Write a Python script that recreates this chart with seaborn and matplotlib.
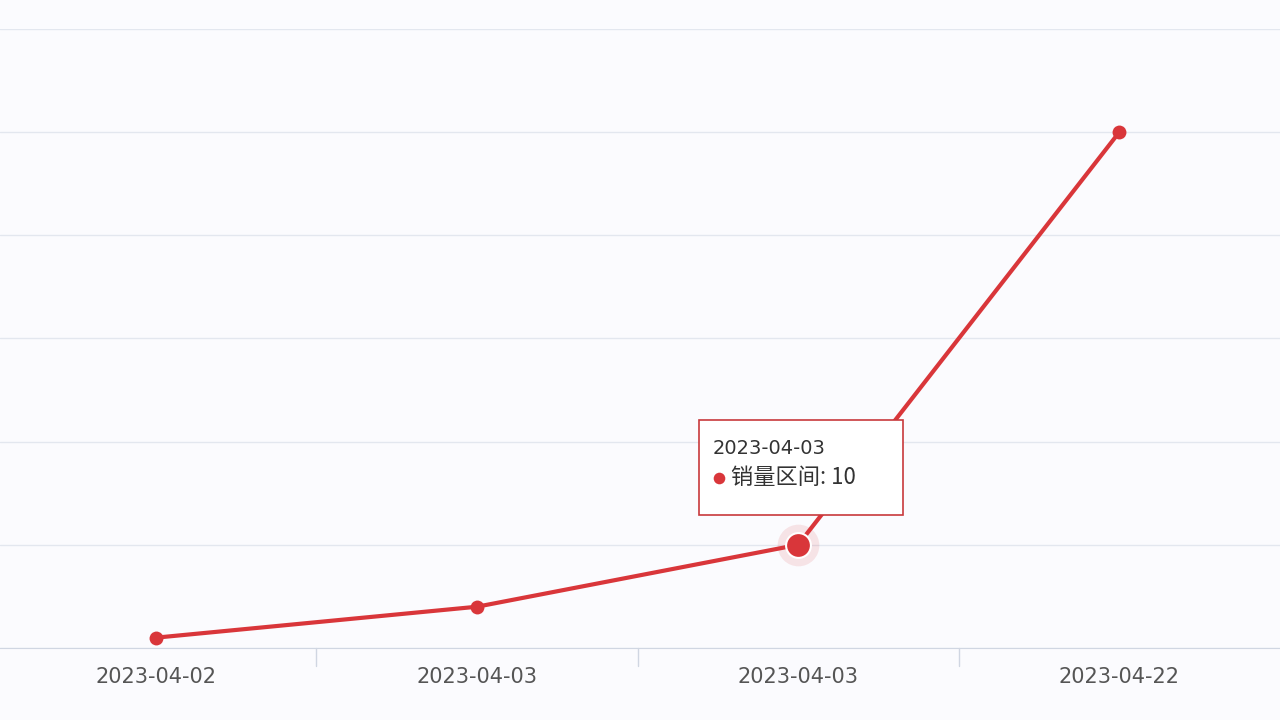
import matplotlib
matplotlib.use("Agg")
import matplotlib.pyplot as plt
from matplotlib.patches import Rectangle
import seaborn as sns
import pandas as pd

# data
dates = ["2023-04-02", "2023-04-03", "2023-04-03", "2023-04-22"]
values = [1, 4, 10, 50]
positions = [0, 1, 2, 3]

sns.set_style("white")
plt.rcParams['font.family'] = ['Noto Sans CJK SC', 'DejaVu Sans']

df = pd.DataFrame({"pos": positions, "val": values})

fig = plt.figure(figsize=(12.8, 7.2), dpi=100, facecolor="#fbfbfe")
ax = fig.add_axes([0, 0.1, 1, 0.86])
ax.set_facecolor("#fbfbfe")

red = "#d9363a"
sns.lineplot(data=df, x="pos", y="val", color=red, linewidth=3, marker="o",
             markersize=10, markeredgewidth=0, ax=ax)

# highlighted point
ax.scatter([positions[2]], [values[2]], s=900, color=red, alpha=0.12, zorder=4, linewidths=0)
ax.scatter([positions[2]], [values[2]], s=320, color=red, zorder=5, edgecolors="white", linewidths=1.5)

ax.set_xlim(-0.485, 3.5)
ax.set_ylim(0, 60)
ax.set_yticks(range(0, 61, 10))
ax.set_yticklabels([])
ax.tick_params(axis="y", length=0)
ax.grid(axis="y", color="#e3e7ef", linewidth=1)
ax.set_xticks(positions)
ax.set_xticklabels(dates, fontsize=15, color="#555555", family=['DejaVu Sans'])
ax.tick_params(axis="x", length=0, pad=14)
for b in [0.5, 1.5, 2.5]:
    ax.plot([b, b], [0, -1.7], color="#d0d6e2", linewidth=1, clip_on=False)
for s in ["top", "right", "left"]:
    ax.spines[s].set_visible(False)
ax.spines["bottom"].set_color("#d0d6e2")
ax.set_xlabel("")
ax.set_ylabel("")

# tooltip
ax.add_patch(Rectangle((1.69, 12.9), 0.635, 9.2, facecolor="white", edgecolor="#c8393c",
                       linewidth=1.2, zorder=6))
ax.text(1.735, 19.3, "2023-04-03", fontsize=14, color="#333333", family=['DejaVu Sans'],
        va="center", zorder=7)
ax.scatter([1.753], [16.5], s=70, color=red, zorder=7, linewidths=0)
ax.text(1.79, 16.5, "销量区间: 10", fontsize=16, color="#333333", va="center", zorder=7)

fig.savefig("out.png", dpi=100, facecolor=fig.get_facecolor())
